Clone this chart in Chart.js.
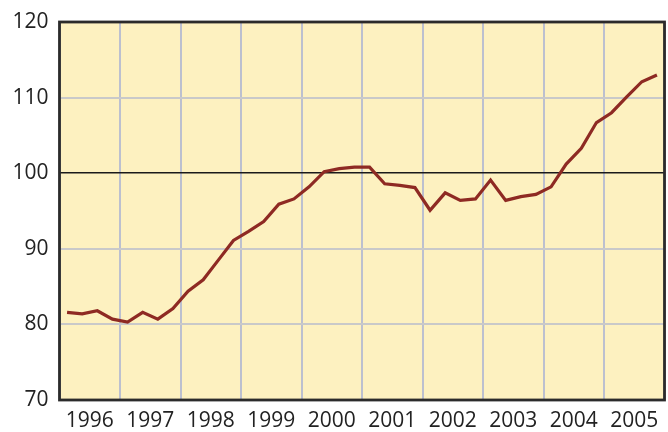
<!DOCTYPE html>
<html>
<head>
<meta charset="utf-8">
<script src="https://cdn.jsdelivr.net/npm/chart.js@4.4.1/dist/chart.umd.min.js"></script>
<style>
    html, body { margin: 0; padding: 0; background: #fff; }
    #wrap { width: 668px; height: 432px; }
</style>
</head>
<body>
<div id="wrap"><canvas id="indexChart" width="668" height="432"></canvas></div>
<script>
    // quarterly index, 1996 Q1 .. 2005 Q4
    var years = ['1996', '1997', '1998', '1999', '2000', '2001', '2002', '2003', '2004', '2005'];
    var indexValues = [
        81.6, 81.4, 81.8, 80.7,
        80.3, 81.6, 80.7, 82.1,
        84.4, 85.9, 88.5, 91.1,
        92.3, 93.6, 95.9, 96.6,
        98.2, 100.2, 100.6, 100.8,
        100.8, 98.6, 98.4, 98.1,
        95.1, 97.4, 96.4, 96.6,
        99.1, 96.4, 96.9, 97.2,
        98.2, 101.2, 103.3, 106.7,
        108.0, 110.1, 112.1, 113.0
    ];
    var yTicks = [70, 80, 90, 100, 110, 120];

    var points = indexValues.map((v, i) => ({ x: i + 0.5, y: v }));

    var framePlugin = {
        id: 'frame',
        beforeDraw: function (chart) {
            var a = chart.chartArea, ctx = chart.ctx;
            ctx.save();
            ctx.fillStyle = '#fdf1c0';
            ctx.fillRect(a.left, a.top, a.right - a.left, a.bottom - a.top);
            ctx.restore();
        },
        afterDraw: function (chart) {
            var a = chart.chartArea, ctx = chart.ctx;
            ctx.save();
            ctx.strokeStyle = '#2b2b2b';
            ctx.lineWidth = 2.8;
            ctx.strokeRect(a.left, a.top, a.right - a.left, a.bottom - a.top);
            ctx.restore();
        }
    };

    var ctx = document.getElementById('indexChart').getContext('2d');
    new Chart(ctx, {
        type: 'line',
        data: {
            datasets: [{
                data: points,
                borderColor: '#8e2a23',
                borderWidth: 3.2,
                pointRadius: 0,
                tension: 0,
                fill: false
            }]
        },
        options: {
            responsive: false,
            animation: false,
            layout: { padding: { top: 22, right: 3.5, left: 0, bottom: 0 } },
            plugins: { legend: { display: false }, tooltip: { enabled: false } },
            scales: {
                x: {
                    type: 'linear',
                    min: 0,
                    max: years.length * 4,
                    afterBuildTicks: function (scale) {
                        var t = [];
                        for (var i = 0; i <= years.length * 4; i += 2) t.push({ value: i });
                        scale.ticks = t;
                    },
                    afterFit: function (scale) {
                        scale.height = 32;
                        scale.paddingLeft = 0;
                        scale.paddingRight = 0;
                    },
                    border: { display: false },
                    grid: {
                        drawTicks: false,
                        lineWidth: 2,
                        color: c => (c.tick && c.tick.value % 4 === 0) ? '#bcc0cf' : 'rgba(0,0,0,0)'
                    },
                    ticks: {
                        padding: 8,
                        autoSkip: false,
                        maxRotation: 0,
                        color: '#222',
                        font: { family: 'Open Sans', size: 21 },
                        callback: v => (v % 4 === 2) ? years[(v - 2) / 4] : ''
                    }
                },
                y: {
                    min: 70,
                    max: 120,
                    afterBuildTicks: function (scale) {
                        scale.ticks = yTicks.map(v => ({ value: v }));
                    },
                    afterFit: function (scale) {
                        scale.width = 59.5;
                        scale.paddingTop = 0;
                        scale.paddingBottom = 0;
                    },
                    border: { display: false },
                    grid: {
                        drawTicks: false,
                        lineWidth: c => (c.tick && c.tick.value === 100) ? 1.5 : 2,
                        color: c => (c.tick && c.tick.value === 100) ? '#1a1a1a' : '#c9c9c9'
                    },
                    ticks: {
                        padding: 11,
                        color: '#222',
                        font: { family: 'Open Sans', size: 21 }
                    }
                }
            }
        },
        plugins: [framePlugin]
    });
</script>
</body>
</html>
